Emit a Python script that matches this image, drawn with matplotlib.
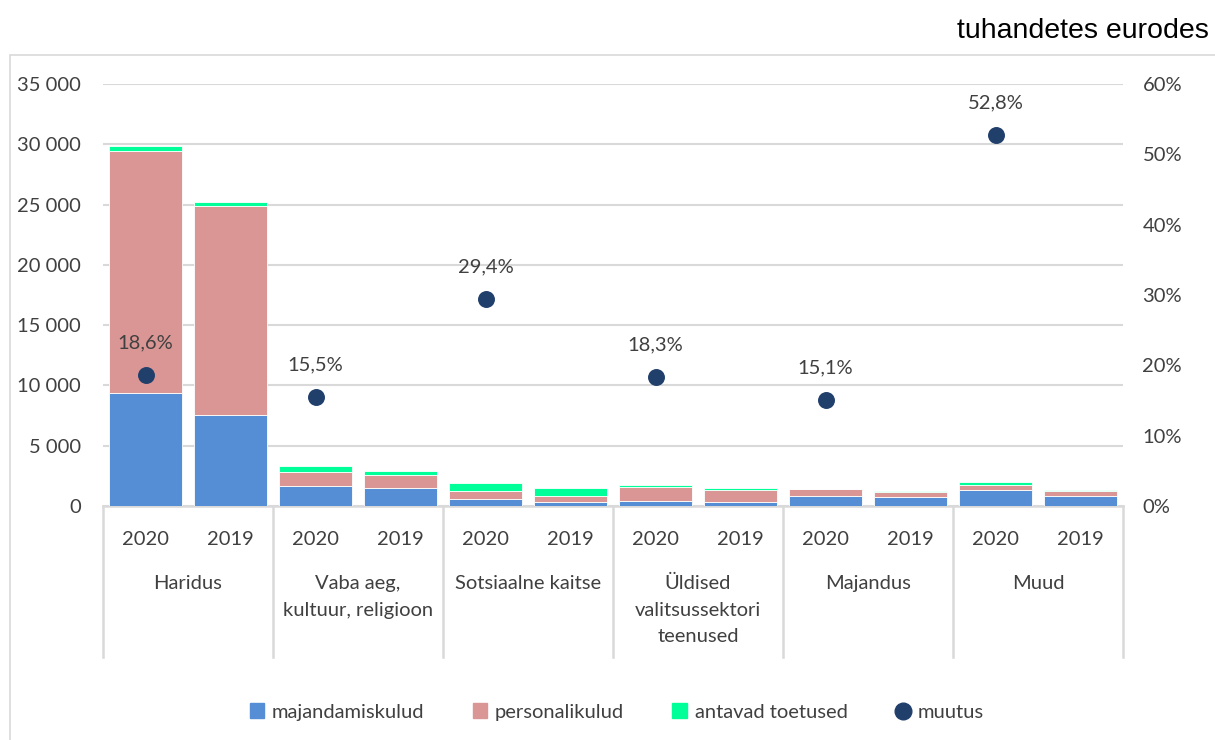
import matplotlib
matplotlib.use("Agg")
import matplotlib.pyplot as plt
from matplotlib.patches import Rectangle
from matplotlib.lines import Line2D
import numpy as np

groups = ["Haridus", "Vaba aeg,\nkultuur, religioon", "Sotsiaalne kaitse",
          "Üldised\nvalitsussektori\nteenused", "Majandus", "Muud"]
years = ["2020", "2019"]
majandamiskulud = [9370, 7550, 1630, 1520, 580, 360, 415, 330, 855, 775, 1355, 855]
personalikulud = [20100, 17330, 1215, 1050, 635, 495, 1160, 1025, 525, 415, 360, 360]
antavad_toetused = [410, 330, 445, 310, 695, 610, 165, 135, 20, 15, 275, 140]
muutus = [0.186, 0.155, 0.294, 0.183, 0.151, 0.528]

c_blue = "#558ED5"
c_pink = "#D99694"
c_green = "#00FF99"
c_dot = "#213F6B"
grid_c = "#D9D9D9"
txt_c = "#404040"
fs = 14.5

plt.rcParams['font.family'] = ['Lato', 'DejaVu Sans']

fig = plt.figure(figsize=(12.15, 7.4), dpi=100)
ax = fig.add_axes([103/1215, 1-506/740, 1020/1215, 422/740])

x = np.arange(len(majandamiskulud))
w = 0.87
m = np.array(majandamiskulud); p = np.array(personalikulud); g = np.array(antavad_toetused)
ax.bar(x, m, w, color=c_blue, edgecolor="white", linewidth=0.6, label="majandamiskulud", zorder=3)
ax.bar(x, p, w, bottom=m, color=c_pink, edgecolor="white", linewidth=0.6, label="personalikulud", zorder=3)
ax.bar(x, g, w, bottom=m+p, color=c_green, edgecolor="white", linewidth=0.6, label="antavad toetused", zorder=3)

ax.set_xlim(-0.5, len(x)-0.5)
ax.set_ylim(0, 35000)
ticks = np.arange(0, 35001, 5000)
ax.set_yticks(ticks)
ax.set_yticklabels([f"{t:,}".replace(",", " ") for t in ticks])
ax.yaxis.grid(True, color=grid_c, linewidth=1.5, zorder=0)
for s in ["left", "right", "top"]:
    ax.spines[s].set_visible(False)
ax.spines["bottom"].set_color(grid_c)
ax.spines["bottom"].set_linewidth(1.8)
ax.tick_params(axis="y", length=0, labelsize=fs, colors=txt_c, pad=16)
ax.set_xticks(x)
ax.set_xticklabels(years * len(groups))
ax.tick_params(axis="x", length=0, labelsize=fs, colors=txt_c, pad=18)

# group separators and labels
trans = ax.get_xaxis_transform()
for k in range(len(groups)+1):
    ax.add_line(Line2D([2*k-0.5, 2*k-0.5], [0, -151/422], transform=trans,
                       color=grid_c, linewidth=1.8, clip_on=False))
for k, gname in enumerate(groups):
    ax.text(2*k+0.5, -69/422, gname, transform=trans, ha="center", va="top",
            fontsize=fs, color=txt_c, linespacing=1.68)

ax2 = ax.twinx()
ax2.set_ylim(0, 0.6)
rt = np.arange(0, 0.61, 0.1)
ax2.set_yticks(rt)
ax2.set_yticklabels([f"{int(round(t*100))}%" for t in rt])
ax2.tick_params(axis="y", length=0, labelsize=fs, colors=txt_c, pad=14)
for s in ["left", "right", "top", "bottom"]:
    ax2.spines[s].set_visible(False)
dx = np.arange(0, len(x), 2)
ax2.scatter(dx, muutus, s=125, color=c_dot, zorder=5, label="muutus")
for xi, v in zip(dx, muutus):
    ax2.annotate(f"{v*100:.1f}%".replace(".", ","), (xi, v), xytext=(0, 17),
                 textcoords="offset points", ha="center", va="bottom",
                 fontsize=fs, color=txt_c)

# legend
h1, l1 = ax.get_legend_handles_labels()
h1 = [Rectangle((0, 0), 1, 1, color=c) for c in [c_blue, c_pink, c_green]]
h2 = [Line2D([], [], marker="o", linestyle="", color=c_dot, markersize=12)]
fig.legend(h1 + h2, l1 + ["muutus"], loc="center", bbox_to_anchor=(617/1215, 1-712/740),
           ncol=4, frameon=False, fontsize=fs, handlelength=0.7, handleheight=0.7,
           handletextpad=0.4, columnspacing=2.4, labelcolor=txt_c)

# outer border
fig.patches.append(Rectangle((10/1215, -0.01), 1.0, 1-55/740+0.01, transform=fig.transFigure,
                             fill=False, edgecolor=grid_c, linewidth=1.2))

fig.text(1209/1215, 1-31/740, "tuhandetes eurodes", ha="right", va="center",
         fontsize=20.5, family="Liberation Sans", color="black")

fig.savefig("out.png", dpi=100)
